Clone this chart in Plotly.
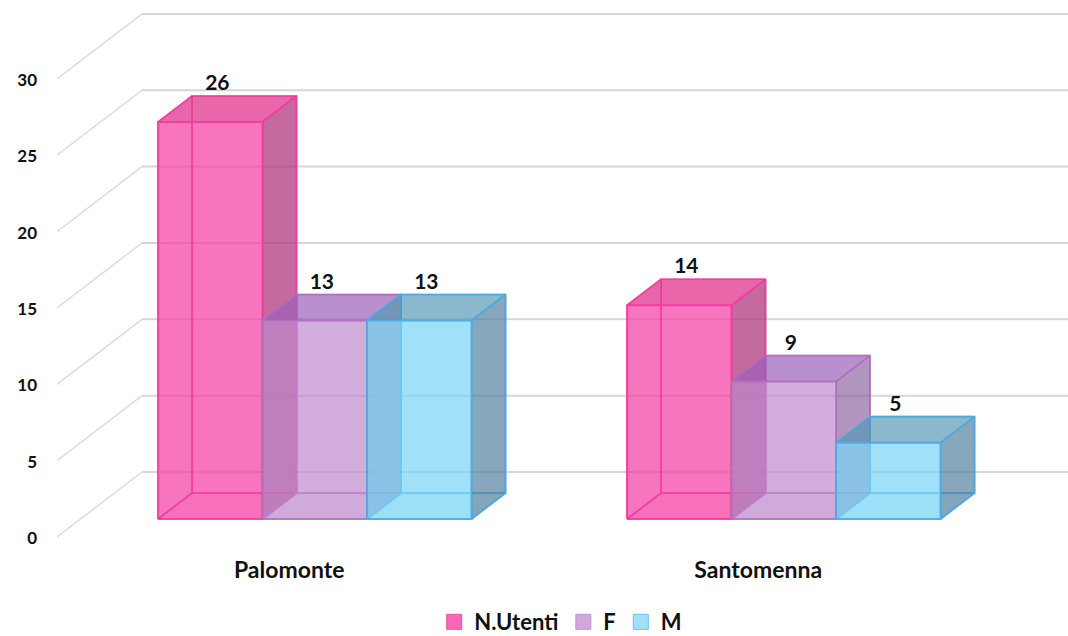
import plotly.graph_objects as go

# ---- data ----
categories = ["Palomonte", "Santomenna"]
series_names = ["N.Utenti", "F", "M"]
n_utenti = [26, 14]
f_values = [13, 9]
m_values = [13, 5]
y_ticks = [0, 5, 10, 15, 20, 25, 30]

# ---- oblique projection ----
W, H = 1068, 636
ML, MB = 57, 96
PX_X = 104.5           # px per bar width
PX_Y = 15.27           # px per value unit
DEPTH_X = 85 / PX_X    # wall shift in x-units
DEPTH_Y = 65 / PX_Y    # wall shift in value-units
BAR_D0, BAR_D1 = 0.277, 0.677
GROUP_STARTS = [0.742, 5.23]
LABEL_DX, LABEL_DY = 7 / PX_X, 37 / PX_Y
X_RIGHT = (W - ML) / PX_X


def pr(x, v, d):
    return x + d * DEPTH_X, v + d * DEPTH_Y


def poly(points, fill, edge, width=1.6):
    xs, ys = zip(*[pr(*p) for p in points + points[:1]])
    return go.Scatter(x=list(xs), y=list(ys), mode="lines", fill="toself",
                      fillcolor=fill, line=dict(color=edge, width=width),
                      hoverinfo="skip", showlegend=False)


fig = go.Figure()

# walls: gridlines
for t in y_ticks:
    xa, ya = pr(0, t, 0)
    xb, yb = pr(0, t, 1)
    fig.add_trace(go.Scatter(x=[xa, xb], y=[ya, yb], mode="lines", hoverinfo="skip", showlegend=False,
                             line=dict(color="#DCDCDC", width=1.5)))
    fig.add_trace(go.Scatter(x=[xb, X_RIGHT], y=[yb, yb], mode="lines", hoverinfo="skip", showlegend=False,
                             line=dict(color="#D6D6D6", width=2)))

STYLES = [
    dict(rgb="243,60,160", edge="rgba(240,60,160,0.8)"),
    dict(rgb="190,135,205", edge="rgba(175,110,190,0.75)"),
    dict(rgb="125,212,245", edge="rgba(75,170,225,0.85)"),
]
SIDE = ["rgba(175,50,120,0.72)", "rgba(130,85,150,0.62)", "rgba(85,130,160,0.7)"]
TOP = ["rgba(225,60,145,0.78)", "rgba(155,95,185,0.7)", "rgba(85,150,180,0.68)"]
FRONT_A = [0.7, 0.68, 0.72]

for s, values in enumerate([n_utenti, f_values, m_values]):
    st = STYLES[s]
    for g, v in enumerate(values):
        x0 = GROUP_STARTS[g] + s
        x1 = x0 + 1
        a, b = BAR_D0, BAR_D1
        base = f"rgba({st['rgb']},"
        # back
        fig.add_trace(poly([(x0, 0, b), (x1, 0, b), (x1, v, b), (x0, v, b)], base + "0.02)", st["edge"]))
        # floor
        fig.add_trace(poly([(x0, 0, a), (x1, 0, a), (x1, 0, b), (x0, 0, b)], base + "0.1)", st["edge"]))
        # left
        fig.add_trace(poly([(x0, 0, a), (x0, 0, b), (x0, v, b), (x0, v, a)], base + "0.02)", st["edge"]))
        # right
        fig.add_trace(poly([(x1, 0, a), (x1, 0, b), (x1, v, b), (x1, v, a)], SIDE[s], st["edge"]))
        # top
        fig.add_trace(poly([(x0, v, a), (x1, v, a), (x1, v, b), (x0, v, b)], TOP[s], st["edge"]))
        # front
        fig.add_trace(poly([(x0, 0, a), (x1, 0, a), (x1, v, a), (x0, v, a)], base + f"{FRONT_A[s]})", st["edge"], 2))
        # value label
        lx, ly = pr(x0 + 0.5, v, a)
        fig.add_trace(go.Scatter(x=[lx + LABEL_DX], y=[ly + LABEL_DY], mode="text", text=[str(v)],
                                 textposition="middle center", hoverinfo="skip", showlegend=False,
                                 textfont=dict(family="Lato", size=21, color="#111111", weight=700)))

# legend entries
LEG_FILL = ["#F569B5", "#D2A8DC", "#A3E0F6"]
LEG_EDGE = ["#F04CA8", "#C090D0", "#70BDE5"]
for s, name in enumerate(series_names):
    fig.add_trace(go.Scatter(x=[None], y=[None], mode="markers", name=name,
                             marker=dict(symbol="square", size=15, color=LEG_FILL[s],
                                         line=dict(color=LEG_EDGE[s], width=1))))

fig.update_layout(
    width=W, height=H,
    margin=dict(l=ML, r=0, t=0, b=MB),
    paper_bgcolor="white", plot_bgcolor="white",
    showlegend=True,
    legend=dict(orientation="h", xref="container", yref="container",
                x=0.525, xanchor="center", y=0.022, yanchor="middle",
                font=dict(family="Lato", size=22, color="#111111", weight=700),
                itemclick=False, itemdoubleclick=False),
    xaxis=dict(range=[0, X_RIGHT], showgrid=False, zeroline=False, showline=False, ticks="",
               automargin=False,
               tickmode="array", tickvals=[g + 1.48 for g in GROUP_STARTS], ticktext=categories,
               tickfont=dict(family="Lato", size=23, color="#111111", weight=700),
               ticklabelstandoff=14),
    yaxis=dict(range=[-3 / PX_Y, 537 / PX_Y], showgrid=False, zeroline=False, showline=False, ticks="",
               automargin=False,
               tickmode="array", tickvals=y_ticks, ticktext=[str(t) for t in y_ticks],
               tickfont=dict(family="Lato", size=17, color="#111111", weight=700),
               ticklabelstandoff=19, ticklabelshift=1),
)

fig.write_html("out.html", config={"displayModeBar": False},
               post_script="document.body.style.margin='0';document.body.style.overflow='hidden';")
